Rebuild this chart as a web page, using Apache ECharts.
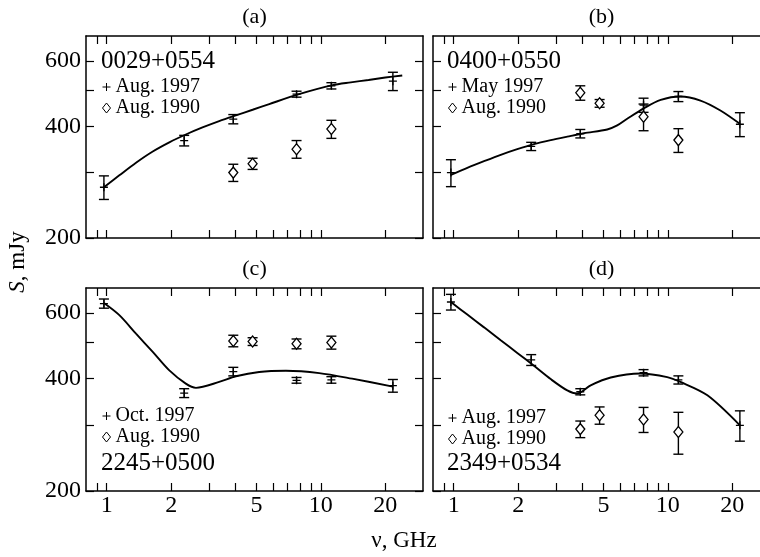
<!DOCTYPE html>
<html>
<head>
<meta charset="utf-8">
<script src="https://cdn.jsdelivr.net/npm/echarts@6/dist/echarts.min.js"></script>
<style>
html, body { margin: 0; padding: 0; background: #fff; }
#chart { width: 760px; height: 557px; }
</style>
</head>
<body>
<div id="chart"></div>
<script>
// Observing frequencies, GHz
const freq1997 = [0.97, 2.3, 3.9, 7.7, 11.2, 21.7];
const freq1990 = [3.9, 4.8, 7.7, 11.2];

// Axis ticks and labels
const freqTicks = [0.9, 1, 2, 3, 4, 5, 6, 7, 8, 9, 10, 20];
const freqLabels = [1, 2, 5, 10, 20];
const fluxTicks = [200, 300, 400, 500, 600];
const fluxLabels = [200, 400, 600];

// (a) 0029+0554
const fluxA1997 = [274, 366, 418, 488, 514, 529];
const errA1997 = [20, 12, 12, 9, 10, 30];
const fluxA1990 = [300, 317, 347, 393];
const errA1990 = [16, 11, 19, 22];
const fitFreqA = [0.97, 1.145, 1.37, 1.64, 1.96, 2.34, 2.8, 3.35, 4.01, 4.8, 5.74, 7.91, 11.35, 13.8, 16.7, 20, 24];
const fitFluxA = [274, 295, 319, 342, 362, 380, 397, 413, 428, 443, 459, 488, 516, 525, 533, 541, 548];

// (b) 0400+0550
const fluxB1997 = [300, 353, 382, 456, 481, 405];
const errB1997 = [25, 9, 10, 20, 15, 30];
const fluxB1990 = [492, 461, 424, 367];
const errB1990 = [22, 11, 35, 27];
const fitFreqB = [0.97, 1.157, 1.385, 1.657, 1.98, 2.37, 2.84, 3.39, 4.06, 5.21, 5.8, 6.46, 7.72, 9.26, 11.45, 14.2, 17.6, 21.7];
const fitFluxB = [296, 309, 322, 335, 347, 358, 367, 375, 383, 392, 402, 419, 447, 471, 481, 469, 441, 406];

// (c) 2245+0500
const fluxC1997 = [636, 366, 418, 396, 397, 383];
const errC1997 = [18, 10, 11, 7, 8, 15];
const fluxC1990 = [505, 503, 496, 500];
const errC1990 = [18, 12, 15, 20];
const fitFreqC = [0.97, 1.145, 1.37, 1.64, 1.96, 2.34, 2.61, 3.35, 4.01, 5.15, 6.87, 9.83, 14.0, 21.7];
const fitFluxC = [638, 592, 528, 472, 421, 388, 378, 392, 406, 417, 420, 414, 400, 381];

// (d) 2349+0534
const fluxD1997 = [642, 449, 369, 415, 397, 300];
const errD1997 = [31, 15, 7, 8, 10, 28];
const fluxD1990 = [293, 319, 311, 288];
const errD1990 = [15, 17, 24, 37];
const fitFreqD = [0.97, 1.157, 1.385, 1.657, 1.98, 2.37, 2.835, 3.39, 3.77, 4.36, 5.41, 7.45, 9.93, 11.45, 15.3, 21.7];
const fitFluxD = [642, 594, 549, 507, 469, 433, 399, 372, 365, 384, 403, 413, 404, 392, 361, 300];

const panelTitles = ['(a)', '(b)', '(c)', '(d)'];
const sourceNames = ['0029+0554', '0400+0550', '2245+0500', '2349+0534'];
const epochs1997 = ['Aug. 1997', 'May 1997', 'Oct. 1997', 'Aug. 1997'];
const epoch1990 = 'Aug. 1990';

const FONT = '"Liberation Serif", "Times New Roman", serif';
const PLUS = 'path://M0,5L10,5M5,0L5,10';

const panels = [
  { s97: fluxA1997, e97: errA1997, s90: fluxA1990, e90: errA1990, ff: fitFreqA, fs: fitFluxA },
  { s97: fluxB1997, e97: errB1997, s90: fluxB1990, e90: errB1990, ff: fitFreqB, fs: fitFluxB },
  { s97: fluxC1997, e97: errC1997, s90: fluxC1990, e90: errC1990, ff: fitFreqC, fs: fitFluxC },
  { s97: fluxD1997, e97: errD1997, s90: fluxD1990, e90: errD1990, ff: fitFreqD, fs: fitFluxD }
];

// Panel frames
const gridBoxes = [
  { left: 86, top: 36, width: 337, height: 202 },
  { left: 433, top: 36, width: 337, height: 202 },
  { left: 86, top: 288, width: 337, height: 203 },
  { left: 433, top: 288, width: 337, height: 203 }
];

const axisLineStyle = { color: '#000', width: 1.5 };
const tickLineStyle = { color: '#000', width: 1.2 };

function freqAxis(gi, position, showLabels) {
  return {
    type: 'log', logBase: 10, gridIndex: gi, position: position, min: 0.8, max: 30,
    axisLine: { show: true, onZero: false, lineStyle: axisLineStyle },
    axisTick: { show: true, inside: true, length: 8, customValues: freqTicks, lineStyle: tickLineStyle },
    axisLabel: { show: showLabels, customValues: freqLabels, margin: 3, color: '#000',
                 fontFamily: FONT, fontSize: 24, formatter: v => String(v) },
    splitLine: { show: false }, minorTick: { show: false }, minorSplitLine: { show: false }
  };
}

function fluxAxis(gi, position, showLabels) {
  return {
    type: 'log', logBase: 10, gridIndex: gi, position: position, min: 200, max: 700,
    axisLine: { show: true, onZero: false, lineStyle: axisLineStyle },
    axisTick: { show: true, inside: true, length: 8, customValues: fluxTicks, lineStyle: tickLineStyle },
    axisLabel: { show: showLabels, customValues: fluxLabels, margin: 5, color: '#000',
                 fontFamily: FONT, fontSize: 24, formatter: v => String(v) },
    splitLine: { show: false }, minorTick: { show: false }, minorSplitLine: { show: false }
  };
}

// Vertical error bars with caps, placed through the panel's axes
function errorBars(gi, freqs, vals, errs) {
  return {
    type: 'custom', xAxisIndex: gi, yAxisIndex: gi, silent: true, z: 3,
    encode: { x: 0, y: [1, 2] },
    data: freqs.map((f, i) => [f, vals[i] - errs[i], vals[i] + errs[i]]),
    renderItem: function (params, api) {
      const f = api.value(0);
      const lo = api.coord([f, api.value(1)]);
      const hi = api.coord([f, api.value(2)]);
      const hw = 5;
      const st = { stroke: '#000', lineWidth: 1.4 };
      return {
        type: 'group',
        children: [
          { type: 'line', shape: { x1: lo[0], y1: lo[1], x2: hi[0], y2: hi[1] }, style: st },
          { type: 'line', shape: { x1: lo[0] - hw, y1: lo[1], x2: lo[0] + hw, y2: lo[1] }, style: st },
          { type: 'line', shape: { x1: hi[0] - hw, y1: hi[1], x2: hi[0] + hw, y2: hi[1] }, style: st }
        ]
      };
    }
  };
}

const grid = [], xAxis = [], yAxis = [], series = [], legend = [], graphic = [];

gridBoxes.forEach((b) => {
  grid.push(Object.assign({ outerBoundsMode: 'none', containLabel: false }, b));
});
for (let i = 0; i < 4; i++) xAxis.push(freqAxis(i, 'bottom', i >= 2));
for (let i = 0; i < 4; i++) xAxis.push(freqAxis(i, 'top', false));
for (let i = 0; i < 4; i++) yAxis.push(fluxAxis(i, 'left', i % 2 === 0));
for (let i = 0; i < 4; i++) yAxis.push(fluxAxis(i, 'right', false));

panels.forEach((p, i) => {
  series.push({
    type: 'line', xAxisIndex: i, yAxisIndex: i, silent: true, z: 2,
    data: p.ff.map((f, k) => [f, p.fs[k]]),
    showSymbol: false, symbol: 'none', smooth: 0.3,
    lineStyle: { color: '#000', width: 1.9 }
  });
  series.push(errorBars(i, freq1997, p.s97, p.e97));
  series.push(errorBars(i, freq1990, p.s90, p.e90));
  series.push({
    name: epochs1997[i], type: 'scatter', xAxisIndex: i, yAxisIndex: i, silent: true, z: 4,
    symbol: PLUS, symbolSize: 8,
    itemStyle: { color: 'transparent', borderColor: '#000', borderWidth: 1.3, opacity: 1 },
    data: freq1997.map((f, k) => [f, p.s97[k]])
  });
  series.push({
    name: epoch1990, type: 'scatter', xAxisIndex: i, yAxisIndex: i, silent: true, z: 5,
    symbol: 'diamond', symbolSize: [9, 11],
    itemStyle: { color: '#fff', borderColor: '#000', borderWidth: 1.3, opacity: 1 },
    data: freq1990.map((f, k) => [f, p.s90[k]])
  });
});

// Per-panel legends
const legendPos = [
  { left: 102, top: 77 },
  { left: 448, top: 77 },
  { left: 102, top: 406 },
  { left: 448, top: 408 }
];
legendPos.forEach((pos, i) => {
  legend.push({
    left: pos.left, top: pos.top, orient: 'vertical', padding: 0, itemGap: 1,
    itemWidth: 8, itemHeight: 10, selectedMode: false,
    itemStyle: { borderWidth: 1 },
    textStyle: { fontFamily: FONT, fontSize: 20, color: '#000', lineHeight: 20 },
    data: [{ name: epochs1997[i], icon: PLUS }, { name: epoch1990, icon: 'diamond' }]
  });
});

// Panel letters and source names
const titlePos = [[254.5, 17], [601.5, 17], [254.5, 269], [601.5, 269]];
const namePos = [[101, 61], [447, 61], [101, 463], [447, 463]];
for (let i = 0; i < 4; i++) {
  graphic.push({
    type: 'text', x: titlePos[i][0], y: titlePos[i][1], silent: true,
    style: { text: panelTitles[i], font: '22px ' + FONT, fill: '#000',
             align: 'center', verticalAlign: 'middle', textAlign: 'center', textVerticalAlign: 'middle' }
  });
  graphic.push({
    type: 'text', x: namePos[i][0], y: namePos[i][1], silent: true,
    style: { text: sourceNames[i], font: '25px ' + FONT, fill: '#000',
             align: 'left', verticalAlign: 'middle', textAlign: 'left', textVerticalAlign: 'middle' }
  });
}
// Axis names
graphic.push({
  type: 'text', x: 404, y: 541, silent: true,
  style: { text: 'ν, GHz', font: '23px ' + FONT, fill: '#000',
           align: 'center', verticalAlign: 'middle', textAlign: 'center', textVerticalAlign: 'middle' }
});
graphic.push({
  type: 'text', x: 18, y: 262, rotation: Math.PI / 2, silent: true,
  style: {
    text: '{i|S}, mJy', fontFamily: FONT, fontSize: 23, fill: '#000',
    align: 'center', verticalAlign: 'middle', textAlign: 'center', textVerticalAlign: 'middle',
    rich: { i: { fontFamily: FONT, fontSize: 23, fontStyle: 'italic', color: '#000' } }
  }
});

const chart = echarts.init(document.getElementById('chart'), null, { renderer: 'canvas' });
chart.setOption({
  animation: false,
  backgroundColor: '#fff',
  grid: grid, xAxis: xAxis, yAxis: yAxis, series: series, legend: legend, graphic: graphic
});
</script>
</body>
</html>
